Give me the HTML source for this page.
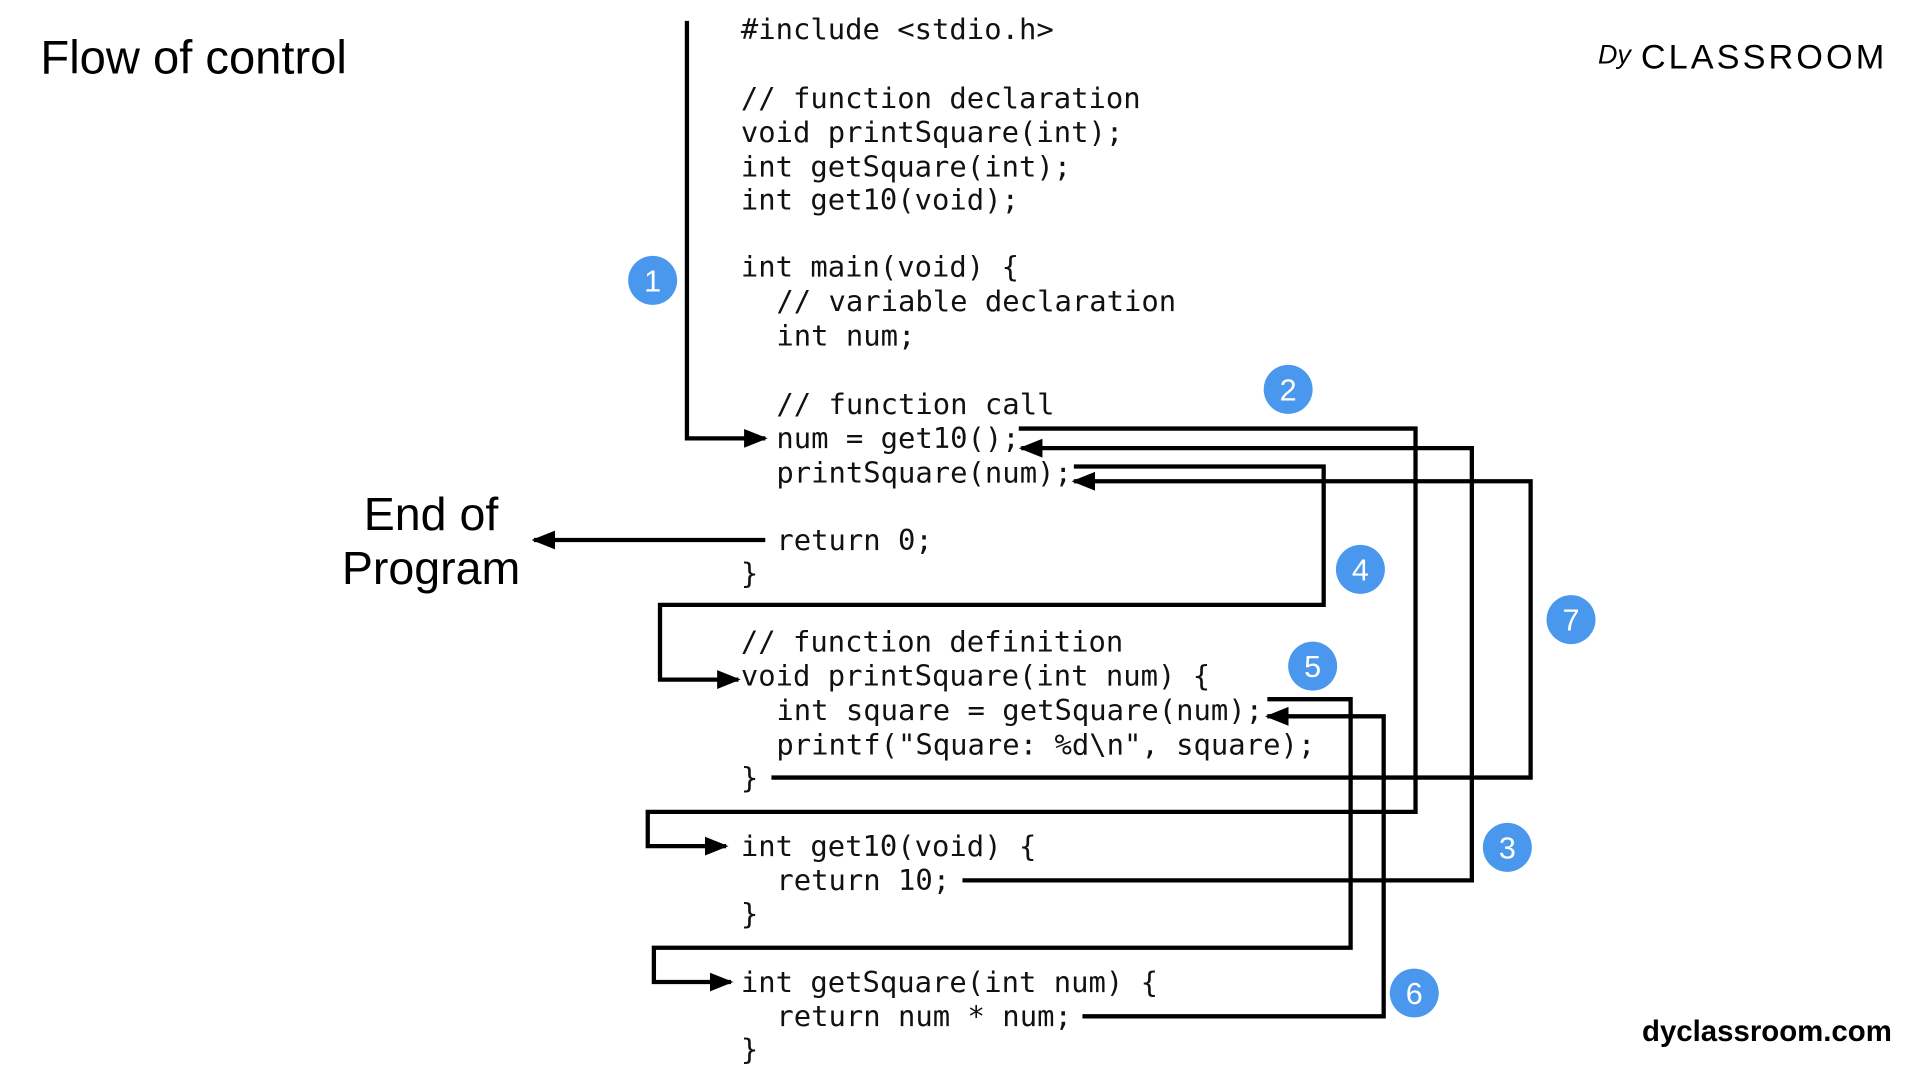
<!DOCTYPE html>
<html><head><meta charset="utf-8"><style>
html,body{margin:0;padding:0;background:#fff;}
svg{display:block;}
.c{font-family:"DejaVu Sans Mono","Liberation Mono",monospace;font-size:23.6px;fill:#111;}
.s{font-family:"Liberation Sans",sans-serif;}
.n{font-family:"Liberation Sans",sans-serif;font-size:25px;fill:#fff;text-anchor:middle;}
</style></head><body>
<svg width="1920" height="1080" viewBox="0 0 1568 882" xmlns="http://www.w3.org/2000/svg">
<defs><marker id="a" viewBox="0 0 10 10" refX="9" refY="5" markerWidth="5.5" markerHeight="5.5" orient="auto" markerUnits="strokeWidth"><path d="M0,1 L10,5 L0,9 z" fill="#000"/></marker></defs>
<text class="s" x="33" y="60" font-size="38.5">Flow of control</text>
<text class="s" x="352" y="433" font-size="38" text-anchor="middle">End of</text>
<text class="s" x="352" y="477" font-size="38" text-anchor="middle">Program</text>
<text class="s" x="1545" y="850" font-size="24" font-weight="bold" text-anchor="end">dyclassroom.com</text>
<text class="s" x="1305" y="52" font-size="22" font-style="italic">Dy</text>
<text class="s" x="1340" y="56" font-size="28" letter-spacing="2.5">CLASSROOM</text>
<g class="c">
<text x="605" y="32">#include &lt;stdio.h&gt;</text>
<text x="605" y="88">// function declaration</text>
<text x="605" y="116">void printSquare(int);</text>
<text x="605" y="144">int getSquare(int);</text>
<text x="605" y="171">int get10(void);</text>
<text x="605" y="226">int main(void) {</text>
<text x="634" y="254">// variable declaration</text>
<text x="634" y="282">int num;</text>
<text x="634" y="338">// function call</text>
<text x="634" y="366">num = get10();</text>
<text x="634" y="394">printSquare(num);</text>
<text x="634" y="449">return 0;</text>
<text x="605" y="476">}</text>
<text x="605" y="532">// function definition</text>
<text x="605" y="560">void printSquare(int num) {</text>
<text x="634" y="588">int square = getSquare(num);</text>
<text x="634" y="616">printf("Square: %d\n", square);</text>
<text x="605" y="643">}</text>
<text x="605" y="699">int get10(void) {</text>
<text x="634" y="727">return 10;</text>
<text x="605" y="754">}</text>
<text x="605" y="810">int getSquare(int num) {</text>
<text x="634" y="838">return num * num;</text>
<text x="605" y="865">}</text>
</g>
<g fill="none" stroke="#000" stroke-width="3.5" marker-end="url(#a)">
<polyline points="561,17 561,358 625,358"/>
<polyline points="625,441 436,441"/>
<polyline points="832,350 1156,350 1156,663 529,663 529,691 593,691"/>
<polyline points="786,719 1202,719 1202,366 834,366"/>
<polyline points="877,381 1081,381 1081,494 539,494 539,555 603,555"/>
<polyline points="1035,571 1103,571 1103,774 534,774 534,802 597,802"/>
<polyline points="884,830 1130,830 1130,585 1035,585"/>
<polyline points="630,635 1250,635 1250,393 877,393"/>
</g>
<g fill="#4a97ee">
<circle cx="533" cy="229" r="20"/><circle cx="1052" cy="318" r="20"/><circle cx="1231" cy="692" r="20"/>
<circle cx="1111" cy="465" r="20"/><circle cx="1072" cy="544" r="20"/><circle cx="1155" cy="811" r="20"/>
<circle cx="1283" cy="506" r="20"/>
</g>
<g class="n">
<text x="533" y="238">1</text><text x="1052" y="327">2</text><text x="1231" y="701">3</text>
<text x="1111" y="474">4</text><text x="1072" y="553">5</text><text x="1155" y="820">6</text>
<text x="1283" y="515">7</text>
</g>
</svg>
</body></html>
